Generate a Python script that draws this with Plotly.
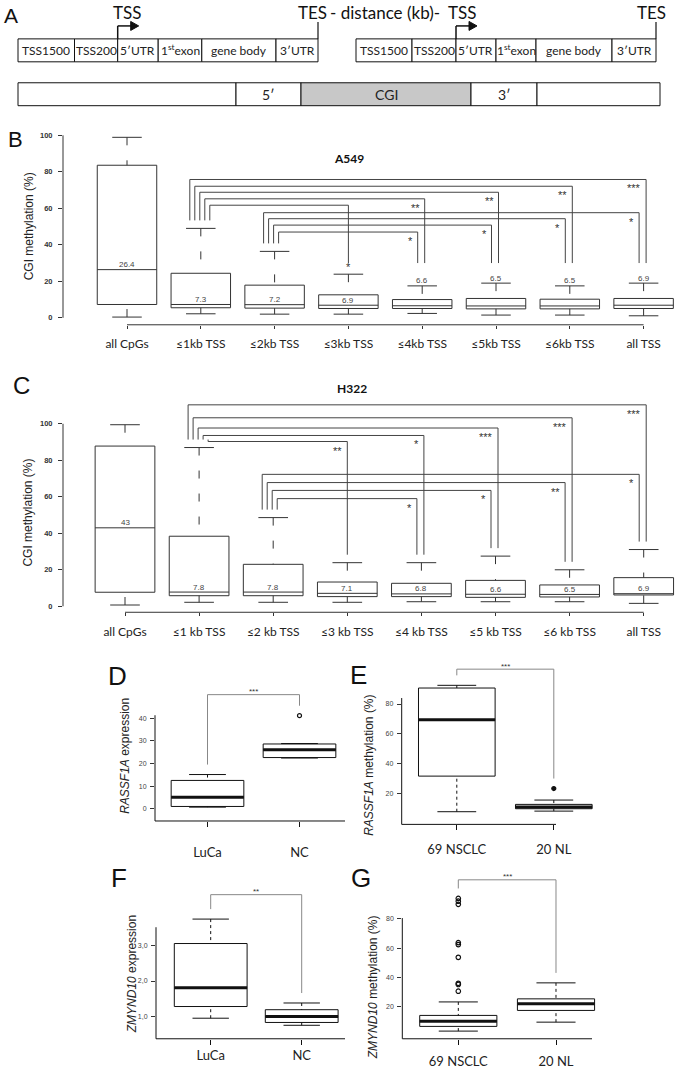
import plotly.graph_objects as go

W, H = 675, 1069
SANS = "Liberation Sans, Arial, sans-serif"
HUM = "Lato, Open Sans, sans-serif"

# ---------------- data ----------------
gene_parts = ["TSS1500", "TSS200", "5′UTR", "1<sup>st</sup>exon", "gene body", "3′UTR"]
cgi_parts = ["", "5′", "CGI", "3′", ""]

cats_a549 = ["all CpGs", "≤1kb TSS", "≤2kb TSS", "≤3kb TSS", "≤4kb TSS", "≤5kb TSS", "≤6kb TSS", "all TSS"]
a549_low = [0.4, 2.2, 2.0, 2.0, 2.4, 1.5, 1.5, 1.1]
a549_q1 = [7.3, 5.5, 5.3, 5.1, 5.1, 4.9, 4.9, 5.1]
a549_median = [26.4, 7.3, 7.2, 6.9, 6.6, 6.5, 6.5, 6.9]
a549_q3 = [83.6, 24.4, 17.9, 12.6, 10.0, 10.6, 10.2, 10.6]
a549_high = [98.9, 49.0, 36.4, 23.9, 17.5, 19.0, 17.5, 19.0]
# (from group, to group, significance, bracket level in %)
a549_tests = [
    (1, 7, "***", 75.8), (1, 6, "**", 72.1), (1, 5, "**", 68.8), (1, 4, "**", 65.2), (1, 3, "*", 61.7),
    (2, 7, "*", 57.6), (2, 6, "*", 54.3), (2, 5, "*", 50.8), (2, 4, "*", 47.0),
]

cats_h322 = ["all CpGs", "≤1 kb TSS", "≤2 kb TSS", "≤3 kb TSS", "≤4 kb TSS", "≤5 kb TSS", "≤6 kb TSS", "all TSS"]
h322_low = [0.7, 2.2, 2.2, 2.2, 2.5, 2.5, 2.5, 1.6]
h322_q1 = [7.7, 5.8, 5.8, 5.3, 5.3, 4.9, 5.1, 6.2]
h322_median = [43, 7.8, 7.8, 7.1, 6.8, 6.6, 6.5, 6.9]
h322_q3 = [87.8, 38.4, 23.0, 13.3, 12.6, 14.2, 11.7, 15.7]
h322_high = [99.5, 87.0, 48.6, 23.9, 23.9, 27.5, 20.0, 31.1]
h322_tests = [
    (1, 7, "***", 110.4), (1, 6, "***", 103.3), (1, 5, "***", 97.7), (1, 4, "*", 93.6), (1, 3, "**", 90.3),
    (2, 7, "*", 72.3), (2, 6, "**", 67.8), (2, 5, "*", 63.5), (2, 4, "*", 59.0),
]

d_cats = ["LuCa", "NC"]
d_low = [0.7, 22.4]
d_q1 = [1.0, 22.6]
d_median = [5.1, 26.1]
d_q3 = [12.5, 28.6]
d_high = [15.1, 28.8]
d_out_group = [1]
d_out_vals = [41.1]
d_sig = ("***", 50.4)

e_cats = ["69 NSCLC", "20 NL"]
e_low = [8.0, 8.4]
e_q1 = [31.8, 10.0]
e_median = [69.5, 11.1]
e_q3 = [90.7, 12.9]
e_high = [92.5, 15.8]
e_out_group = [1]
e_out_vals = [23.5]
e_sig = ("***", 103.3)

f_cats = ["LuCa", "NC"]
f_low = [0.95, 0.75]
f_q1 = [1.28, 0.83]
f_median = [1.81, 1.0]
f_q3 = [3.06, 1.19]
f_high = [3.75, 1.38]
f_out_group = []
f_out_vals = []
f_sig = ("**", 4.44)

g_cats = ["69 NSCLC", "20 NL"]
g_low = [3.4, 9.5]
g_q1 = [6.6, 17.5]
g_median = [10.2, 22.0]
g_q3 = [14.1, 25.4]
g_high = [23.3, 36.3]
g_out_group = [0, 0, 0, 0, 0, 0, 0, 0, 0]
g_out_vals = [30.6, 35.2, 36.0, 53.7, 62.4, 63.7, 89.9, 92.0, 93.9]
g_sig = ("***", 106.6)

# ---------------- helpers ----------------
fig = go.Figure()
shapes, annotations = [], []
P = {}


def names(n):
    s = "" if n == 1 else str(n)
    return "xaxis" + s, "yaxis" + s, "x" + s, "y" + s


def setup(n, xdom, ydom, xmap, ymap, xopts=None, yopts=None):
    L, R = xdom
    T, B = ydom
    xa, xb = xmap
    ya, yb = ymap
    P[n] = (xa, xb, ya, yb, xdom, ydom)
    xk, yk, xr, yr = names(n)
    base = dict(showgrid=False, zeroline=False, showline=False, fixedrange=True,
                showticklabels=False, ticks="")
    xd = dict(base, domain=[L / W, R / W], range=[(L - xa) / xb, (R - xa) / xb], anchor=yr)
    yd = dict(base, domain=[1 - B / H, 1 - T / H], range=[(ya - B) / yb, (ya - T) / yb], anchor=xr)
    if xopts:
        xd.update(xopts)
    if yopts:
        yd.update(yopts)
    fig.update_layout({xk: xd, yk: yd})


def vy(n, v):
    xa, xb, ya, yb, _, _ = P[n]
    return ya - yb * v


def vx(n, x):
    xa, xb, ya, yb, _, _ = P[n]
    return xa + xb * x


def pline(x0, y0, x1, y1, color="#111", width=1):
    shapes.append(dict(type="line", xref="paper", yref="paper", x0=x0 / W, x1=x1 / W,
                       y0=1 - y0 / H, y1=1 - y1 / H, line=dict(color=color, width=width)))


def prect(x0, y0, x1, y1, fill="white"):
    shapes.append(dict(type="rect", xref="paper", yref="paper", x0=x0 / W, x1=x1 / W,
                       y0=1 - y1 / H, y1=1 - y0 / H, line=dict(color="#111", width=1),
                       fillcolor=fill, layer="below"))


def ptext(x, y, text, size, family=SANS, color="#111", angle=0, xanchor="center", weight="normal"):
    annotations.append(dict(xref="paper", yref="paper", x=x / W, y=1 - y / H, text=text,
                            showarrow=False, textangle=angle, xanchor=xanchor, yanchor="middle",
                            font=dict(size=size, family=family, color=color, weight=weight)))


def draw_boxes(n, low, q1, med, q3, high, bw, color, lw, dash, thick):
    _, _, xr, yr = names(n)
    pos = list(range(len(q1)))
    fig.add_trace(go.Box(x=pos, q1=q1, median=med, q3=q3, lowerfence=q1, upperfence=q3,
                         width=bw, whiskerwidth=0, fillcolor="white",
                         line=dict(color=color, width=lw), boxpoints=False,
                         xaxis=xr, yaxis=yr, hoverinfo="skip", showlegend=False))
    wx, wy, cx, cy = [], [], [], []
    for i in pos:
        wx += [i, i, None, i, i, None]
        wy += [high[i], q3[i], None, low[i], q1[i], None]
        cx += [i - 0.2, i + 0.2, None, i - 0.2, i + 0.2, None]
        cy += [high[i], high[i], None, low[i], low[i], None]
    fig.add_trace(go.Scatter(x=wx, y=wy, mode="lines", line=dict(color=color, width=lw, dash=dash),
                             xaxis=xr, yaxis=yr, hoverinfo="skip", showlegend=False))
    fig.add_trace(go.Scatter(x=cx, y=cy, mode="lines", line=dict(color=color, width=lw),
                             xaxis=xr, yaxis=yr, hoverinfo="skip", showlegend=False))
    if thick:
        mx, my = [], []
        for i in pos:
            mx += [i - bw / 2, i + bw / 2, None]
            my += [med[i], med[i], None]
        fig.add_trace(go.Scatter(x=mx, y=my, mode="lines", line=dict(color=color, width=3),
                                 xaxis=xr, yaxis=yr, hoverinfo="skip", showlegend=False))


def draw_tests(n, tests, high, floor_v, star_at_end=()):
    xa, xb, ya, yb, _, _ = P[n]
    _, _, xr, yr = names(n)
    froms = {}
    for f, t, s, lv in tests:
        froms.setdefault(t, []).append(f)
    groups = {}
    for tst in tests:
        groups.setdefault(tst[0], []).append(tst)
    xs, ys = [], []
    for f, grp in groups.items():
        grp = sorted(grp, key=lambda t: -t[3])
        for k, (_, t, s, lv) in enumerate(grp):
            xl = f + (-11 + 5 * k) / xb
            yl = high[f] + 8 / yb
            fr = froms[t]
            roff = 0 if len(fr) == 1 else (2.5 if f == min(fr) else -4.5)
            xe = t + roff / xb
            ye = max(high[t] + 8 / yb, floor_v)
            xs += [xl, xl, xe, xe, None]
            ys += [yl, lv, lv, ye, None]
            if (f, t) in star_at_end:
                annotations.append(dict(xref=xr, yref=yr, x=xe, y=ye, yshift=-4, text=s,
                                        showarrow=False, xanchor="center", yanchor="middle",
                                        font=dict(size=11, family=SANS, color="#333")))
            else:
                annotations.append(dict(xref=xr, yref=yr, x=xe, y=lv, xshift=-3, yshift=-9, text=s,
                                        showarrow=False, xanchor="right", yanchor="middle",
                                        font=dict(size=11, family=SANS, color="#333")))
    fig.add_trace(go.Scatter(x=xs, y=ys, mode="lines", line=dict(color="#444", width=1),
                             xaxis=xr, yaxis=yr, hoverinfo="skip", showlegend=False))


def median_labels(n, med, q3, high, cap_from=None):
    _, _, xr, yr = names(n)
    for i, m in enumerate(med):
        y = high[i] if (cap_from is not None and i >= cap_from) else m
        annotations.append(dict(xref=xr, yref=yr, x=i, y=y, yshift=5, text=f"{m:g}",
                                showarrow=False, xanchor="center", yanchor="middle",
                                font=dict(size=8, family=SANS, color="#444")))


def outliers(n, grp, vals, symbol, size):
    _, _, xr, yr = names(n)
    if vals:
        fig.add_trace(go.Scatter(x=grp, y=vals, mode="markers",
                                 marker=dict(symbol=symbol, size=size, color="#111",
                                             line=dict(color="#111", width=1.2)),
                                 xaxis=xr, yaxis=yr, hoverinfo="skip", showlegend=False))


def pair_test(n, sig, high, out_grp, out_vals):
    xa, xb, ya, yb, _, _ = P[n]
    _, _, xr, yr = names(n)
    stars, level = sig
    tops = []
    for i in range(2):
        vals = [high[i]] + [v for g, v in zip(out_grp, out_vals) if g == i]
        tops.append(max(vals) + 10 / yb)
    fig.add_trace(go.Scatter(x=[0, 0, 1, 1], y=[tops[0], level, level, tops[1]], mode="lines",
                             line=dict(color="#888", width=1), xaxis=xr, yaxis=yr,
                             hoverinfo="skip", showlegend=False))
    annotations.append(dict(xref=xr, yref=yr, x=0.5, y=level, yshift=3, text=stars, showarrow=False,
                            xanchor="center", yanchor="middle",
                            font=dict(size=8, family=SANS, color="#333")))


# ---------------- panel A (diagram, pixel space) ----------------
ptext(11, 16, "A", 21)
for edges in ([18, 74.5, 117.7, 158.2, 201.8, 276, 318], [356, 412, 456, 496, 536, 612, 656]):
    for k, lab in enumerate(gene_parts):
        prect(edges[k], 39, edges[k + 1], 62)
        ptext((edges[k] + edges[k + 1]) / 2, 50.5, lab, 12, family=HUM, color="#222")
for xt in (117.7, 456):
    pline(xt, 39, xt, 26, width=1.5)
    pline(xt, 26, xt + 14, 26, width=1.5)
    shapes.append(dict(type="path", xref="paper", yref="paper",
                       path=f"M {(xt+13)/W},{1-21.5/H} L {(xt+21)/W},{1-26/H} L {(xt+13)/W},{1-30.5/H} Z",
                       fillcolor="#111", line=dict(color="#111", width=1)))
for xt in (318, 656):
    pline(xt, 22, xt, 39, width=1.2)
ptext(127, 13, "TSS", 17, family=HUM)
ptext(312, 13, "TES", 17, family=HUM)
ptext(385, 13, "- distance (kb)-", 17, family=HUM)
ptext(462, 13, "TSS", 17, family=HUM)
ptext(651, 13, "TES", 17, family=HUM)
cgi_edges = [18, 236, 301, 471, 537, 660]
for k, lab in enumerate(cgi_parts):
    prect(cgi_edges[k], 83, cgi_edges[k + 1], 106, fill="#c8c8c8" if lab == "CGI" else "white")
    if lab:
        ptext((cgi_edges[k] + cgi_edges[k + 1]) / 2, 94.5, lab, 14, family=HUM, color="#222")

# ---------------- panels B and C ----------------
xcat = dict(tickmode="array", tickvals=list(range(8)), showticklabels=True, ticks="outside",
            ticklen=3, tickcolor="#333", tickfont=dict(family=HUM, size=12, color="#222"),
            ticklabelstandoff=5)
ynum = dict(tickmode="array", tickvals=[0, 20, 40, 60, 80, 100], showticklabels=True,
            ticks="outside", ticklen=4, tickcolor="#333",
            tickfont=dict(family=SANS, size=7.5, color="#333", weight="bold"), ticklabelstandoff=4)

setup(2, (63, 675), (130, 325.7), (127, 73.8), (318.7, 1.83),
      dict(xcat, ticktext=cats_a549), dict(ynum))
setup(3, (63, 675), (398, 614), (125, 74.1), (608, 1.83),
      dict(xcat, ticktext=cats_h322), dict(ynum))

for n in (2, 3):
    pline(63, vy(n, 100), 63, vy(n, 0), color="#333")
    pline(vx(n, 0), P[n][5][1], vx(n, 7), P[n][5][1], color="#333")

draw_boxes(2, a549_low, a549_q1, a549_median, a549_q3, a549_high, 0.806, "#333", 1, "8px,15px", False)
draw_tests(2, a549_tests, a549_high, 30, star_at_end={(1, 3)})
median_labels(2, a549_median, a549_q3, a549_high, cap_from=4)

draw_boxes(3, h322_low, h322_q1, h322_median, h322_q3, h322_high, 0.806, "#333", 1, "8px,15px", False)
draw_tests(3, h322_tests, h322_high, 0)
median_labels(3, h322_median, h322_q3, h322_high)

ptext(15, 140, "B", 22)
ptext(349, 159, "A549", 12, family=HUM, weight="bold")
ptext(29, 227, "CGI methylation (%)", 12, angle=-90, color="#222")
ptext(21, 387, "C", 24)
ptext(352, 390, "H322", 12, family=HUM, weight="bold")
ptext(28, 514, "CGI methylation (%)", 12, angle=-90, color="#222")

# ---------------- panels D - G ----------------
def small_x(cats, standoff):
    return dict(tickmode="array", tickvals=[0, 1], ticktext=cats, showticklabels=True, ticks="outside",
                ticklen=5, tickcolor="#111", tickfont=dict(family=HUM, size=13, color="#222"),
                ticklabelstandoff=standoff)


def small_y(vals, text=None):
    d = dict(tickmode="array", tickvals=vals, showticklabels=True, ticks="outside", ticklen=4,
             tickcolor="#333", tickfont=dict(family=SANS, size=7, color="#444"), ticklabelstandoff=2)
    if text:
        d["ticktext"] = text
    return d


setup(4, (155, 345), (680, 823.3), (207.5, 92), (811, 2.27), small_x(d_cats, 14), small_y([0, 10, 20, 30, 40]))
setup(5, (401.7, 600), (660, 826.7), (456.8, 97), (826, 1.5), small_x(e_cats, 8), small_y([20, 40, 60, 80]))
setup(6, (156, 345), (885, 1041.7), (210.7, 91), (1054.8, 35.5), small_x(f_cats, 0),
      small_y([1, 2, 3], ["1,0", "2,0", "3,0"]))
setup(7, (402.3, 600), (875, 1041.7), (458.3, 97.7), (1039, 1.47), small_x(g_cats, 6), small_y([20, 40, 60, 80]))

axis_tops = {4: 41.3, 5: 84, 6: 3.52, 7: 80.5}
axis_right = {4: 345, 5: 556, 6: 345, 7: 592}
for n in (4, 5, 6, 7):
    L = P[n][4][0]
    B = P[n][5][1]
    pline(L, vy(n, axis_tops[n]), L, B, color="#111")
    pline(L, B, axis_right[n], B, color="#111")

draw_boxes(4, d_low, d_q1, d_median, d_q3, d_high, 0.79, "#111", 1, "3px,3px", True)
outliers(4, d_out_group, d_out_vals, "circle-open", 4)
pair_test(4, d_sig, d_high, d_out_group, d_out_vals)

draw_boxes(5, e_low, e_q1, e_median, e_q3, e_high, 0.79, "#111", 1, "3px,3px", True)
outliers(5, e_out_group, e_out_vals, "circle", 4)
pair_test(5, e_sig, e_high, e_out_group, e_out_vals)

draw_boxes(6, f_low, f_q1, f_median, f_q3, f_high, 0.8, "#111", 1, "3px,3px", True)
pair_test(6, f_sig, f_high, f_out_group, f_out_vals)

draw_boxes(7, g_low, g_q1, g_median, g_q3, g_high, 0.79, "#111", 1, "3px,3px", True)
outliers(7, g_out_group, g_out_vals, "circle-open", 4.5)
pair_test(7, g_sig, g_high, g_out_group, g_out_vals)

ptext(117, 678, "D", 26)
ptext(359, 677, "E", 26)
ptext(119, 880, "F", 26)
ptext(361, 880, "G", 26)
ptext(125, 758, "<i>RASSF1A</i> expression", 12, angle=-90, color="#222")
ptext(369, 768, "<i>RASSF1A</i> methylation (%)", 12, angle=-90, color="#222")
ptext(132, 977, "<i>ZMYND10</i> expression", 12, angle=-90, color="#222")
ptext(373, 990, "<i>ZMYND10</i> methylation (%)", 12, angle=-90, color="#222")

# panel A uses no data axes; hide default axis 1
fig.update_layout(xaxis=dict(visible=False, domain=[0, 0.01]), yaxis=dict(visible=False, domain=[0.99, 1]))

fig.update_layout(width=W, height=H, autosize=False, margin=dict(l=0, r=0, t=0, b=0),
                  plot_bgcolor="rgba(0,0,0,0)", paper_bgcolor="white", showlegend=False,
                  shapes=shapes, annotations=annotations, font=dict(family=SANS))
fig.write_html("out.html", config={"displayModeBar": False, "staticPlot": True},
               post_script="document.body.style.margin='0px';document.body.style.overflow='hidden';")
